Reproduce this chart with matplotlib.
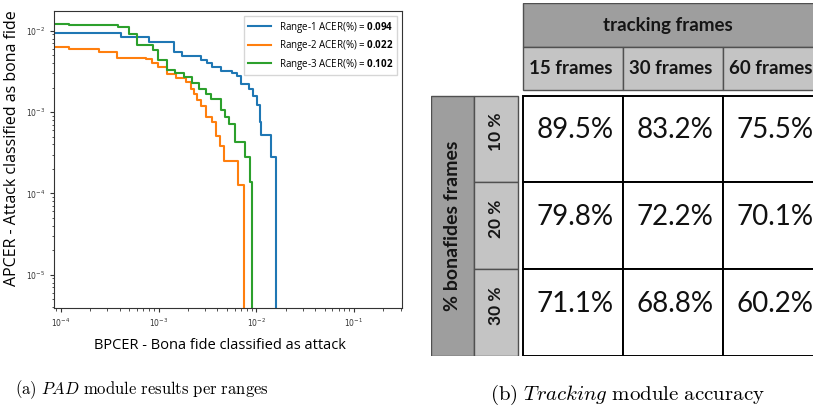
import matplotlib
matplotlib.use("Agg")
import matplotlib.pyplot as plt
from matplotlib.patches import Rectangle

plt.rcParams["mathtext.fontset"] = "custom"
plt.rcParams["mathtext.rm"] = "Open Sans"
plt.rcParams["mathtext.bf"] = "Open Sans:bold"

# (a) DET curves per range: step points (BPCER, APCER)
r1_bpcer = [5e-5, 4.11e-4, 8.0e-4, 1.44e-3, 1.74e-3, 2.70e-3, 3.13e-3, 3.52e-3, 4.32e-3,
            5.62e-3, 6.33e-3, 7.06e-3, 8.38e-3, 9.2e-3, 1.02e-2, 1.09e-2, 1.13e-2, 1.40e-2, 1.58e-2]
r1_apcer = [9.29e-3, 8.44e-3, 7.2e-3, 5.43e-3, 4.89e-3, 4.37e-3, 3.98e-3, 3.61e-3, 3.23e-3,
            3.05e-3, 2.78e-3, 2.2e-3, 1.91e-3, 1.59e-3, 1.22e-3, 7.5e-4, 5.24e-4, 2.83e-4, 1e-7]

r2_bpcer = [5e-5, 1.22e-4, 2.47e-4, 3.71e-4, 7.39e-4, 8.65e-4, 9.95e-4, 1.23e-3, 1.50e-3, 1.90e-3,
            2.13e-3, 2.30e-3, 2.49e-3, 2.70e-3, 3.03e-3, 3.54e-3, 3.89e-3, 4.21e-3, 4.65e-3,
            6.52e-3, 7.45e-3]
r2_apcer = [6.25e-3, 5.96e-3, 5.52e-3, 4.66e-3, 4.49e-3, 3.98e-3, 3.61e-3, 2.94e-3, 2.65e-3, 2.36e-3,
            1.91e-3, 1.66e-3, 1.41e-3, 1.19e-3, 8.78e-4, 7.62e-4, 5.08e-4, 3.86e-4, 2.53e-4,
            1.27e-4, 1e-7]

r3_bpcer = [5e-5, 1.22e-4, 3.80e-4, 5.0e-4, 6.08e-4, 8.79e-4, 9.95e-4, 1.23e-3, 1.47e-3, 1.82e-3,
            2.21e-3, 2.59e-3, 3.03e-3, 3.41e-3, 4.32e-3, 4.74e-3, 5.24e-3, 6.04e-3, 7.76e-3,
            8.53e-3, 9.06e-3]
r3_apcer = [1.21e-2, 1.175e-2, 1.12e-2, 9.03e-3, 6.67e-3, 5.79e-3, 4.37e-3, 3.29e-3, 3.05e-3, 2.68e-3,
            2.30e-3, 1.91e-3, 1.67e-3, 1.45e-3, 1.06e-3, 8.78e-4, 7.14e-4, 4.33e-4, 2.83e-4,
            1.40e-4, 1e-7]

acer = ["0.094", "0.022", "0.102"]

# (b) tracking accuracy table
col_labels = ["15 frames", "30 frames", "60 frames"]
row_labels = ["10 %", "20 %", "30 %"]
accuracy = [[89.5, 83.2, 75.5],
            [79.8, 72.2, 70.1],
            [71.1, 68.8, 60.2]]

fig = plt.figure(figsize=(8.13, 4.13), dpi=100)

# ---- left: DET plot
ax = fig.add_axes([0.0664, 0.2542, 0.428, 0.7192])
curves = [(r1_bpcer, r1_apcer, "#1f77b4"), (r2_bpcer, r2_apcer, "#ff7f0e"), (r3_bpcer, r3_apcer, "#2ca02c")]
for i, (xs, ys, c) in enumerate(curves):
    ax.step(xs, ys, where="post", color=c, lw=1.5,
            label="Range-%d ACER(%%) = $\\mathbf{%s}$" % (i + 1, acer[i]))
ax.set_xscale("log")
ax.set_yscale("log")
ax.set_xlim(8.5e-5, 0.31)
ax.set_ylim(3.9e-6, 0.0175)
for s in ax.spines.values():
    s.set_color("#333333")
    s.set_linewidth(0.8)
ax.tick_params(which="both", labelsize=5.5, colors="#333333", labelcolor="#333333")
ax.tick_params(which="major", length=3)
ax.tick_params(which="minor", length=1.8)
ax.set_xlabel("BPCER - Bona fide classified as attack", family="Open Sans", fontsize=10.5)
ax.set_ylabel("APCER - Attack classified as bona fide", family="Open Sans", fontsize=11.5)
ax.xaxis.set_label_coords(0.4756, -0.101)
ax.yaxis.set_label_coords(-0.098, 0.539)
leg = ax.legend(loc="upper right", prop={"family": "Open Sans", "size": 7}, handlelength=2.4,
                borderaxespad=0.5, labelspacing=0.35, fancybox=False, edgecolor="#cccccc")

# ---- right: table (x in column units, y in row units)
tab = fig.add_axes([0.5301, 0.1387, 0.4822, 0.8530])
tab.set_xlim(-0.92, 3.0)
tab.set_ylim(3.0, -1.065)
tab.axis("off")

dark, light, edge = "#9e9e9e", "#c4c4c4", "#505050"
tab.add_patch(Rectangle((0, -1.065), 3, 0.5, fc=dark, ec=edge, lw=1))
tab.text(1.45, -0.815, "tracking frames", ha="center", va="center", family="Lato",
         weight="bold", fontsize=13.5, color="#151515")
for j, lab in enumerate(col_labels):
    tab.add_patch(Rectangle((j, -0.565), 1, 0.495, fc=light, ec=edge, lw=1))
    tab.text(j + 0.48, -0.31, lab, ha="center", va="center", family="Lato",
             weight="bold", fontsize=13.5, color="#151515")

tab.add_patch(Rectangle((-0.92, 0), 0.43, 3, fc=dark, ec=edge, lw=1))
tab.text(-0.705, 1.5, "% bonafides frames", ha="center", va="center", rotation=90,
         family="Lato", weight="bold", fontsize=14, color="#151515")
for i, lab in enumerate(row_labels):
    tab.add_patch(Rectangle((-0.49, i), 0.44, 1, fc=light, ec=edge, lw=1))
    tab.text(-0.27, i + 0.42, lab, ha="center", va="center", rotation=90,
             family="Lato", weight="bold", fontsize=12.5, color="#151515")
    for j in range(3):
        tab.add_patch(Rectangle((j, i), 1, 1, fc="white", ec="black", lw=1.4))
        tab.text(j + 0.52, i + 0.4, "%.1f%%" % accuracy[i][j], ha="center", va="center",
                 family="Lato", fontsize=20, color="#111111")

# ---- captions (Computer Modern via mathtext)
fig.text(142 / 813, 1 - 390 / 413, r"$\mathrm{(a)\ }\mathit{PAD}\mathrm{\ module\ results\ per\ ranges}$",
         ha="center", va="center", fontsize=12, math_fontfamily="cm")
fig.text(627 / 813, 1 - 395 / 413, r"$\mathrm{(b)\ }\mathit{Tracking}\mathrm{\ module\ accuracy}$",
         ha="center", va="center", fontsize=15, math_fontfamily="cm")

fig.savefig("out.png", dpi=100)
